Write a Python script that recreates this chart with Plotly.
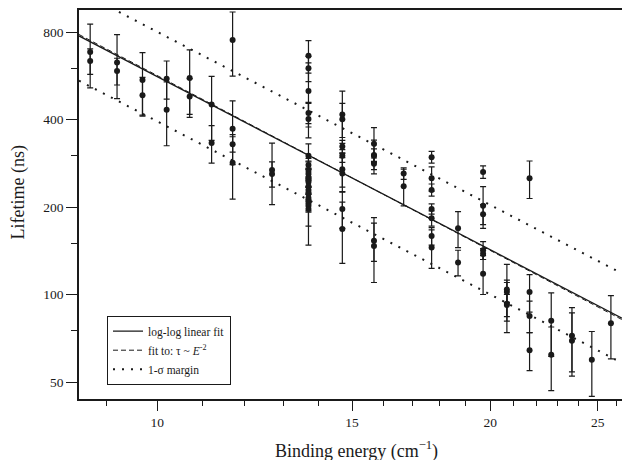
import numpy as np
import plotly.graph_objects as go

# ---------------- data ----------------
energy = [
    8.7, 8.7,
    9.2, 9.2,
    9.7, 9.7,
    10.2, 10.2,
    10.7, 10.7,
    11.2, 11.2,
    11.7, 11.7, 11.7, 11.7,
    12.7, 12.7,
    13.7, 13.7, 13.7, 13.7, 13.7, 13.7,
    13.7, 13.7, 13.7, 13.7, 13.7, 13.7, 13.7, 13.7, 13.7, 13.7, 13.7, 13.7,
    14.7, 14.7, 14.7, 14.7, 14.7, 14.7, 14.7, 14.7,
    15.7, 15.7, 15.7, 15.7, 15.7, 15.7,
    16.7, 16.7,
    17.7, 17.7, 17.7, 17.7, 17.7, 17.7, 17.7,
    18.7, 18.7,
    19.7, 19.7, 19.7, 19.7, 19.7, 19.7,
    20.7, 20.7, 20.7, 20.7,
    21.7, 21.7, 21.7, 21.7,
    22.7, 22.7,
    23.7, 23.7,
    24.7,
    25.7,
]
lifetime = [
    683, 636,
    628, 588,
    547, 485,
    553, 432,
    556, 480,
    451, 332,
    751, 372, 329, 284,
    268, 260,
    663, 600, 502, 421, 402, 300,
    279, 268, 260, 252, 244, 236, 229, 222, 215, 208, 202, 197,
    416, 401, 323, 300, 270, 261, 197, 168,
    330, 302, 300, 282, 153, 147,
    261, 236,
    297, 251, 229, 197, 183, 159, 145,
    169, 129,
    264, 202, 189, 142, 138, 118,
    104, 102, 93, 92,
    251, 102, 84.4, 64.3,
    81.3, 62,
    72.2, 69.4,
    59.6,
    79.6,
]
lifetime_err = [
    169, 64,
    156, 62,
    133, 74,
    83, 107,
    139, 73,
    112, 49,
    187, 92, 20, 71,
    64, 26,
    85, 60, 125, 34, 56, 30,
    15, 20, 12, 18, 10, 15, 57, 12, 10, 14, 10, 49,
    85, 54, 16, 15, 36, 35, 28, 40,
    45, 15, 40, 13, 23, 37,
    12, 34,
    14, 24, 11, 8, 11, 11, 22,
    24, 13,
    13, 33, 15, 10, 6, 18,
    23, 8, 19, 8,
    37, 15, 10.5, 9.6,
    20, 15.3,
    18, 17,
    15,
    19.5,
]

# fit parameters (estimated from the reference lines)
loglog_intercept = 4.730      # log10(tau) = a + b*log10(E)
loglog_slope = -1.98
inv_square_const = 56700.0    # tau = C * E^-2
sigma_log = 0.154             # 1-sigma margin in log10 units

x_tick_vals = [10, 15, 20, 25]
x_minor_vals = [9, 11, 12, 13, 14, 16, 17, 18, 19, 21, 22, 23, 24, 26]
y_tick_vals = [50, 100, 200, 400, 800]
y_minor_vals = [75, 150, 300, 600]

x_range = [np.log10(8.5), np.log10(26.3)]
y_range = [1.6405, 2.979]

# ---------------- figure ----------------
ink = "#1a1a1a"
font_family = "Liberation Serif"

fig = go.Figure()

fig.add_trace(go.Scatter(
    x=energy, y=lifetime, mode="markers",
    marker=dict(size=6, color=ink),
    error_y=dict(type="data", array=lifetime_err, symmetric=True,
                 color=ink, thickness=1.2, width=3),
    showlegend=False, hoverinfo="x+y",
))

E_line = np.array([10 ** x_range[0], 10 ** x_range[1]])
tau_fit = 10 ** (loglog_intercept + loglog_slope * np.log10(E_line))
tau_sq = inv_square_const * E_line ** -2.0

fig.add_trace(go.Scatter(
    x=E_line, y=tau_fit, mode="lines",
    line=dict(color=ink, width=1.3),
    name="log-log linear fit",
))
fig.add_trace(go.Scatter(
    x=E_line, y=tau_sq, mode="lines",
    line=dict(color=ink, width=1, dash="5px,3px"),
    name="fit to: τ ~ <i>E</i><sup>-2</sup>",
))
up = tau_fit * 10 ** sigma_log
lo = tau_fit * 10 ** (-sigma_log)
fig.add_trace(go.Scatter(
    x=list(E_line) + [None] + list(E_line),
    y=list(up) + [None] + list(lo),
    mode="lines",
    line=dict(color=ink, width=2, dash="2px,7px"),
    name="1-σ margin",
))

fig.update_layout(
    width=622, height=460,
    margin=dict(l=79, r=0, t=10, b=61),
    paper_bgcolor="white", plot_bgcolor="white",
    font=dict(family=font_family, color=ink, size=13.5),
    legend=dict(
        x=(107 - 79) / 543, y=(399 - 315.7) / 389,
        xanchor="left", yanchor="top",
        bgcolor="white", bordercolor=ink, borderwidth=1,
        font=dict(size=11.5, family=font_family, color=ink),
        tracegroupgap=0,
    ),
    xaxis=dict(
        type="log", range=x_range,
        showgrid=False, zeroline=False,
        showline=True, linecolor=ink, linewidth=1.5, mirror=True,
        ticks="outside", ticklen=10, tickwidth=1.2, tickcolor=ink,
        tickmode="array", tickvals=x_tick_vals,
        ticktext=[str(v) for v in x_tick_vals],
        tickfont=dict(size=13.5),
        minor=dict(tickmode="array", tickvals=x_minor_vals,
                   ticks="outside", ticklen=5, tickwidth=1.2,
                   tickcolor=ink, showgrid=False),
    ),
    yaxis=dict(
        type="log", range=y_range,
        showgrid=False, zeroline=False,
        showline=True, linecolor=ink, linewidth=1.5,
        ticks="outside", ticklen=11, tickwidth=1.2, tickcolor=ink,
        tickmode="array", tickvals=y_tick_vals,
        ticktext=[str(v) for v in y_tick_vals],
        tickfont=dict(size=13.5),
        minor=dict(tickmode="array", tickvals=y_minor_vals,
                   ticks="outside", ticklen=6, tickwidth=1.2,
                   tickcolor=ink, showgrid=False),
    ),
    annotations=[
        dict(text="Binding energy (cm<sup>−1</sup>)",
             xref="paper", yref="paper",
             x=(356 - 79) / 543, y=0, xanchor="center", yanchor="middle",
             yshift=-(450 - 399), showarrow=False,
             font=dict(size=18, family=font_family, color=ink)),
        dict(text="Lifetime (ns)", textangle=-90,
             xref="paper", yref="paper",
             x=0, y=(399 - 192.5) / 389, xanchor="center", yanchor="middle",
             xshift=-(79 - 18), showarrow=False,
             font=dict(size=18, family=font_family, color=ink)),
    ],
)

fig.write_html("out.html")
